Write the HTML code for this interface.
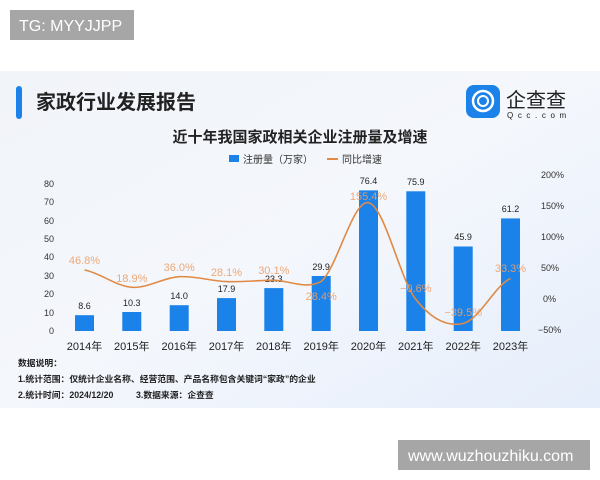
<!DOCTYPE html>
<html><head><meta charset="utf-8"><style>
body{margin:0;width:600px;height:480px;background:#fff;overflow:hidden;font-family:"Liberation Sans","Noto Sans CJK SC",sans-serif;}
</style></head><body>
<svg width="600" height="480" xmlns="http://www.w3.org/2000/svg" style="position:absolute;left:0;top:0;font-family:'Liberation Sans','Noto Sans CJK SC',sans-serif">
<defs>
<linearGradient id="bg" x1="0" y1="0" x2="1" y2="1">
<stop offset="0" stop-color="#f1f4f9"/><stop offset="0.5" stop-color="#f4f7fc"/><stop offset="1" stop-color="#e6eefb"/>
</linearGradient>
</defs>
<rect x="0" y="71" width="600" height="337" fill="url(#bg)"/>
<rect x="10" y="10" width="124" height="30" fill="#a6a6a6"/>
<text x="19" y="31" font-size="16" fill="#fff">TG: MYYJJPP</text>
<rect x="398" y="440" width="192" height="30" fill="#a6a6a6"/>
<text x="408" y="461" font-size="16" fill="#fff">www.wuzhouzhiku.com</text>
<rect x="16" y="86" width="6" height="33" rx="3" fill="#1a82e8"/>
<text x="36" y="109" font-size="20" font-weight="bold" fill="#222">家政行业发展报告</text>
<rect x="466" y="85" width="34" height="33" rx="8" fill="#1a82e8"/>
<circle cx="483" cy="101" r="10" fill="none" stroke="#fff" stroke-width="2.5"/>
<circle cx="483" cy="101" r="5" fill="none" stroke="#fff" stroke-width="2"/>
<text x="506" y="107" font-size="20" fill="#222">企查查</text>
<text x="507" y="118" font-size="8" fill="#222" letter-spacing="4.6">Qcc.com</text>
<text x="300" y="142" font-size="15" font-weight="bold" fill="#222" text-anchor="middle">近十年我国家政相关企业注册量及增速</text>
<rect x="229" y="155" width="10" height="7" fill="#1a82e8"/>
<text x="243" y="163" font-size="10" fill="#333">注册量（万家）</text>
<line x1="327" y1="159" x2="338" y2="159" stroke="#e08a45" stroke-width="2"/>
<text x="342" y="163" font-size="10" fill="#333">同比增速</text>
<g font-size="9" fill="#333" text-anchor="end">
<text x="54" y="187">80</text><text x="54" y="205">70</text><text x="54" y="224">60</text><text x="54" y="242">50</text><text x="54" y="260">40</text><text x="54" y="279">30</text><text x="54" y="297">20</text><text x="54" y="316">10</text><text x="54" y="334">0</text>
</g>
<g font-size="9" fill="#333">
<text x="541" y="178">200%</text><text x="541" y="209">150%</text><text x="541" y="240">100%</text><text x="541" y="271">50%</text><text x="543" y="302">0%</text><text x="538" y="333">−50%</text>
</g>
<g fill="#1a82e8">
<rect x="75" y="315.2" width="19" height="15.8"/>
<rect x="122.3" y="312" width="19" height="19"/>
<rect x="169.7" y="305.2" width="19" height="25.8"/>
<rect x="217" y="298.1" width="19" height="32.9"/>
<rect x="264.3" y="288.1" width="19" height="42.9"/>
<rect x="311.7" y="276" width="19" height="55"/>
<rect x="359" y="190.4" width="19" height="140.6"/>
<rect x="406.3" y="191.3" width="19" height="139.7"/>
<rect x="453.7" y="246.5" width="19" height="84.5"/>
<rect x="501" y="218.4" width="19" height="112.6"/>
</g>
<g font-size="9" fill="#222" text-anchor="middle">
<text x="84.5" y="309">8.6</text><text x="131.8" y="306">10.3</text><text x="179.2" y="299">14.0</text><text x="226.5" y="292">17.9</text><text x="273.8" y="282">23.3</text><text x="321.2" y="270">29.9</text><text x="368.5" y="184">76.4</text><text x="415.8" y="185">75.9</text><text x="463.2" y="240">45.9</text><text x="510.5" y="212">61.2</text>
</g>
<path d="M84.5,270 C100.3,272.9 116,286.2 131.8,287.3 C147.6,288.4 163.4,277.6 179.2,276.7 C195,275.8 210.7,281 226.5,281.6 C242.3,282.2 258,280.3 273.8,280.3 C289.6,280.3 305.4,290 321.2,281.4 C337,268.5 352.7,199.7 368.5,202.7 C384.3,205.7 400,279.3 415.8,299.4 C431.6,319.5 447.4,327 463.2,323.5 C479,320 494.7,285.9 510.5,278.4" fill="none" stroke="#e08a45" stroke-width="1.6"/>
<g font-size="11" fill="#eca06a" text-anchor="middle" fill-opacity="0.9">
<text x="84.5" y="264">46.8%</text><text x="131.8" y="282">18.9%</text><text x="179.2" y="271">36.0%</text><text x="226.5" y="276">28.1%</text><text x="273.8" y="274">30.1%</text><text x="321.2" y="300">28.4%</text><text x="368.5" y="200">155.4%</text><text x="415.8" y="292">−0.6%</text><text x="463.2" y="316">−39.5%</text><text x="510.5" y="272">33.3%</text>
</g>
<g font-size="11" fill="#222" text-anchor="middle">
<text x="84.5" y="350">2014年</text><text x="131.8" y="350">2015年</text><text x="179.2" y="350">2016年</text><text x="226.5" y="350">2017年</text><text x="273.8" y="350">2018年</text><text x="321.2" y="350">2019年</text><text x="368.5" y="350">2020年</text><text x="415.8" y="350">2021年</text><text x="463.2" y="350">2022年</text><text x="510.5" y="350">2023年</text>
</g>
<g font-size="8.8" fill="#222" font-weight="bold">
<text x="18" y="366">数据说明：</text>
<text x="18" y="382">1.统计范围：仅统计企业名称、经营范围、产品名称包含关键词“家政”的企业</text>
<text x="18" y="398">2.统计时间：2024/12/20</text>
<text x="136" y="398">3.数据来源：企查查</text>
</g>
</svg>
</body></html>
